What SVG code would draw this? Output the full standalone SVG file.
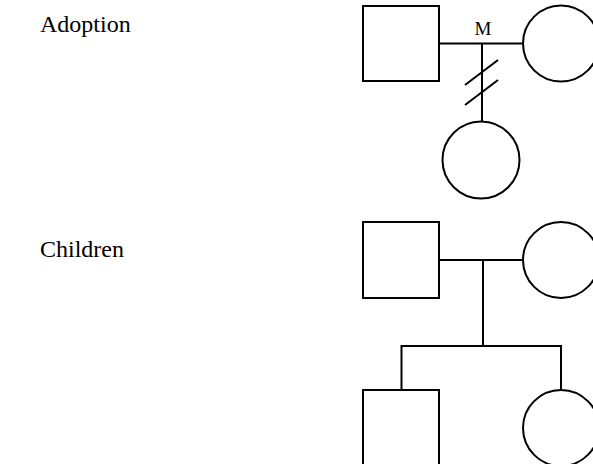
<svg xmlns="http://www.w3.org/2000/svg" width="593" height="464" viewBox="0 0 593 464">
<style>
.n{fill:#fff;stroke:#000;stroke-width:2}
.c{fill:none;stroke:#000;stroke-width:2}
.t{font-family:"Liberation Serif","Times New Roman",serif;fill:#000}
</style>
<rect width="593" height="464" fill="#fff"/>
<text class="t" x="40" y="32" font-size="24">Adoption</text>
<text class="t" x="40" y="257" font-size="24">Children</text>
<g id="connectors">
<line class="c" x1="439" y1="43.5" x2="523" y2="43.5"/>
<line class="c" x1="482" y1="43.5" x2="482" y2="121.5"/>
<line class="c" x1="465" y1="85" x2="498" y2="60"/>
<line class="c" x1="465" y1="105" x2="498" y2="80"/>
<line class="c" x1="439" y1="260" x2="523" y2="260"/>
<line class="c" x1="483" y1="260" x2="483" y2="346"/>
<polyline class="c" points="401.5,390 401.5,346 561,346 561,390"/>
</g>
<text class="t" x="483" y="35" font-size="19" text-anchor="middle">M</text>
<g id="a-father"><rect class="n" x="363" y="6" width="76" height="75"/></g>
<g id="a-mother"><circle class="n" cx="561" cy="43.5" r="38"/></g>
<g id="a-child"><circle class="n" cx="481" cy="160" r="38.5"/></g>
<g id="c-father"><rect class="n" x="363" y="222" width="76" height="76"/></g>
<g id="c-mother"><circle class="n" cx="561" cy="260" r="38"/></g>
<g id="c-son"><rect class="n" x="363" y="390" width="76" height="76"/></g>
<g id="c-daughter"><circle class="n" cx="561" cy="428" r="38"/></g>
</svg>
